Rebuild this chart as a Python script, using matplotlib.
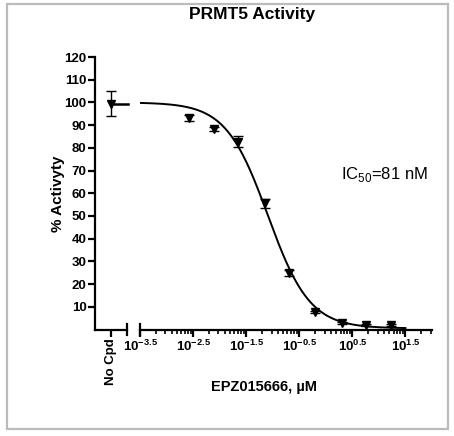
import numpy as np
import matplotlib
matplotlib.use("Agg")
import matplotlib.pyplot as plt
from matplotlib.patches import Rectangle
from matplotlib.ticker import FixedLocator, FixedFormatter, NullFormatter

plt.rcParams['font.family'] = ['Liberation Sans', 'DejaVu Sans']
plt.rcParams['mathtext.fontset'] = 'custom'
plt.rcParams['mathtext.rm'] = 'Liberation Sans'
plt.rcParams['mathtext.bf'] = 'Liberation Sans:bold'

# data
nocpd_mean = 99.5
nocpd_err = 5.5
log_conc = [-2.57, -2.11, -1.65, -1.15, -0.69, -0.20, 0.30, 0.76, 1.23]
activity = [93.2, 88.3, 82.6, 55.5, 24.9, 7.7, 2.9, 2.0, 1.9]
activity_err = [1.2, 1.0, 2.4, 2.0, 1.5, 0.6, 0.5, 0.5, 0.5]

# fitted dose response curve
ic50 = 0.081
hill = 1.1
top = 100.0
bottom = 0.5

major_exp = [-3.5, -2.5, -1.5, -0.5, 0.5, 1.5]
major_labels = [r'$\mathbf{10^{-3.5}}$', r'$\mathbf{10^{-2.5}}$', r'$\mathbf{10^{-1.5}}$',
                r'$\mathbf{10^{-0.5}}$', r'$\mathbf{10^{0.5}}$', r'$\mathbf{10^{1.5}}$']
yticks = list(range(10, 121, 10))

W, H = 454, 436
fig = plt.figure(figsize=(W / 100, H / 100), dpi=100)

def box(x0, x1, y0, y1):
    return [x0 / W, 1 - y1 / H, (x1 - x0) / W, (y1 - y0) / H]

ax1 = fig.add_axes(box(95, 127, 57, 329.5))
ax2 = fig.add_axes(box(140, 432, 57, 329.5), sharey=ax1)

lw = 1.6
for ax in (ax1, ax2):
    for s in ('top', 'right'):
        ax.spines[s].set_visible(False)
    ax.spines['bottom'].set_linewidth(lw)
    ax.spines['left'].set_linewidth(lw)
    ax.set_facecolor('none')
ax2.spines['left'].set_visible(False)

# no compound panel
ax1.set_xlim(-1, 1)
ax1.set_ylim(0, 120)
ax1.errorbar([0], [nocpd_mean], yerr=[nocpd_err], fmt='v', color='black',
             markersize=5.5, capsize=3.5, elinewidth=1, capthick=1)
ax1.plot([0, 1.05], [nocpd_mean, nocpd_mean], color='black', lw=1.8, clip_on=False)
ax1.set_xticks([0])
ax1.set_xticklabels(['No Cpd'], rotation=90, fontweight='bold', fontsize=9.5)
ax1.set_yticks(yticks)
ax1.set_yticklabels([str(v) for v in yticks], fontweight='bold', fontsize=9.5)
ax1.tick_params(axis='both', length=5, width=lw, pad=1)
ax1.set_ylabel('% Activyty', fontweight='bold', fontsize=11, labelpad=0)
ax1.plot([1, 1], [-0.02, 0.02], transform=ax1.transAxes, color='black', lw=lw, clip_on=False)

# concentration panel
ax2.set_xscale('log')
ax2.set_xlim(10 ** -3.5, 10 ** 2.0)
conc = [10 ** v for v in log_conc]
xs = np.logspace(-3.5, 1.5, 300)
fit = bottom + (top - bottom) / (1 + (xs / ic50) ** hill)
ax2.plot(xs, fit, color='black', lw=1.4)
ax2.errorbar(conc, activity, yerr=activity_err, fmt='v', color='black',
             markersize=5.5, capsize=3.5, elinewidth=1, capthick=1)
majors = [10 ** e for e in major_exp]
minors = [m * k for m in majors for k in range(2, 10) if m * k <= 10 ** 2.0]
ax2.xaxis.set_major_locator(FixedLocator(majors))
ax2.xaxis.set_major_formatter(FixedFormatter(major_labels))
ax2.xaxis.set_minor_locator(FixedLocator(minors))
ax2.xaxis.set_minor_formatter(NullFormatter())
ax2.tick_params(axis='x', which='major', length=5, width=lw, labelsize=9.5, pad=2)
ax2.tick_params(axis='x', which='minor', length=3, width=1.2)
ax2.tick_params(axis='y', left=False, labelleft=False)
ax2.plot([0, 0], [-0.02, 0.02], transform=ax2.transAxes, color='black', lw=lw, clip_on=False)
ax2.text(0.69, 0.567, r'IC$_{\mathregular{50}}$=81 nM', transform=ax2.transAxes,
         fontsize=12, va='center', ha='left')

fig.text(252 / W, 1 - 15 / H, 'PRMT5 Activity', ha='center', va='center',
         fontweight='bold', fontsize=12.5)
fig.text(264 / W, 1 - 387 / H, 'EPZ015666, \u00b5M', ha='center', va='center',
         fontweight='bold', fontsize=10.5)

fig.patches.append(Rectangle((7 / W, 1 - 429 / H), 441 / W, 425 / H, transform=fig.transFigure,
                             fill=False, edgecolor='#bbbbbb', lw=1.6))

fig.savefig('out.png', dpi=100)
